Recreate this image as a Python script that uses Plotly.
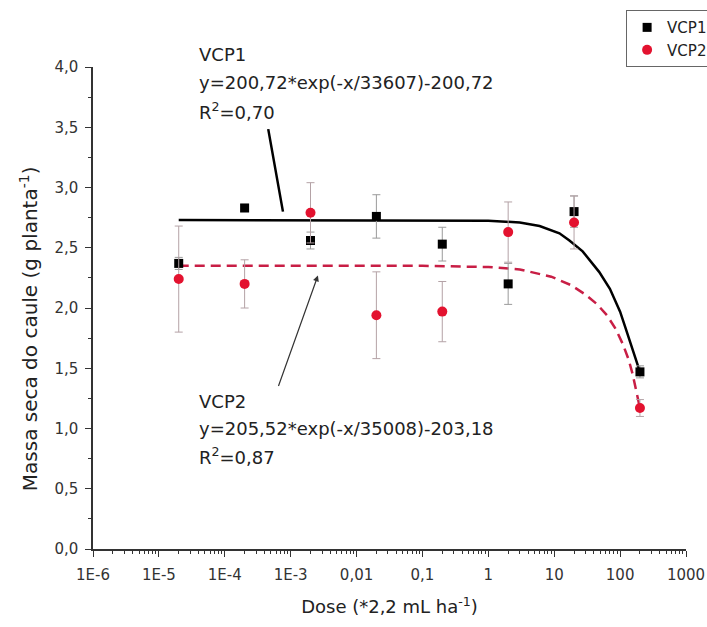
import plotly.graph_objects as go

# ---------------- data ----------------
doses = [2e-5, 2e-4, 2e-3, 0.02, 0.2, 2, 20, 200]
vcp1 = [2.37, 2.83, 2.56, 2.76, 2.53, 2.20, 2.80, 1.47]
vcp1_err = [0.05, 0.03, 0.07, 0.18, 0.14, 0.17, 0.13, 0.05]
vcp2 = [2.24, 2.20, 2.79, 1.94, 1.97, 2.63, 2.71, 1.17]
vcp2_err = [0.44, 0.20, 0.25, 0.36, 0.25, 0.25, 0.22, 0.07]

# fitted curves
fit1_x = [2e-5, 1, 3, 6, 12, 17, 27, 48, 70, 87, 100, 120, 140, 155, 175, 200]
fit1_y = [2.73, 2.725, 2.71, 2.68, 2.62, 2.56, 2.47, 2.30, 2.16, 2.05, 1.97, 1.84, 1.73, 1.65, 1.57, 1.47]
fit2_x = [2e-5, 0.1, 1, 3, 9, 18, 30, 45, 63, 85, 110, 135, 155, 178, 200]
fit2_y = [2.35, 2.35, 2.34, 2.32, 2.26, 2.19, 2.11, 2.03, 1.94, 1.83, 1.70, 1.57, 1.45, 1.31, 1.17]

x_tickvals = [1e-6, 1e-5, 1e-4, 1e-3, 1e-2, 1e-1, 1, 10, 100, 1000]
x_ticktext = ["1E-6", "1E-5", "1E-4", "1E-3", "0,01", "0,1", "1", "10", "100", "1000"]
y_tickvals = [0, 0.5, 1.0, 1.5, 2.0, 2.5, 3.0, 3.5, 4.0]

FONT = "DejaVu Sans, Liberation Sans, Arial, sans-serif"
RED = "#e3122f"
DASH_RED = "#c81e45"

fig = go.Figure()

fig.add_trace(go.Scatter(x=fit1_x, y=fit1_y, mode="lines", showlegend=False,
                         line=dict(color="black", width=2.5), hoverinfo="skip"))
fig.add_trace(go.Scatter(x=fit2_x, y=fit2_y, mode="lines", showlegend=False,
                         line=dict(color=DASH_RED, width=2.5, dash="10px,6px"), hoverinfo="skip"))

fig.add_trace(go.Scatter(
    x=doses, y=vcp1, mode="markers", name="VCP1",
    marker=dict(symbol="square", size=9, color="black"),
    error_y=dict(type="data", array=vcp1_err, color="#9a9a9a", thickness=1, width=4)))
fig.add_trace(go.Scatter(
    x=doses, y=vcp2, mode="markers", name="VCP2",
    marker=dict(symbol="circle", size=10, color=RED),
    error_y=dict(type="data", array=vcp2_err, color="#b4a2a6", thickness=1, width=4)))

minor_vals = [m * 10 ** e for e in range(-6, 3) for m in range(2, 10)]

fig.update_xaxes(
    type="log", range=[-6, 3],
    tickmode="array", tickvals=x_tickvals, ticktext=x_ticktext,
    ticks="outside", ticklen=6, tickwidth=1.2, tickcolor="#333",
    minor=dict(tickmode="array", tickvals=minor_vals, ticks="outside", ticklen=3,
               tickwidth=1, tickcolor="#333", showgrid=False),
    showline=True, linecolor="#333", linewidth=1.5, showgrid=False, zeroline=False,
    tickfont=dict(family=FONT, size=15, color="#333"), ticklabelstandoff=5,
    title=dict(text="Dose (*2,2 mL ha<sup>-1</sup>)", font=dict(family=FONT, size=18, color="#222"),
               standoff=18),
)
fig.update_yaxes(
    range=[0, 4], tickmode="array", tickvals=y_tickvals, tickformat=".1f",
    ticks="outside", ticklen=6, tickwidth=1.2, tickcolor="#333",
    minor=dict(dtick=0.25, ticks="outside", ticklen=3, tickwidth=1, tickcolor="#333", showgrid=False),
    showline=True, linecolor="#333", linewidth=1.5, showgrid=False, zeroline=False,
    tickfont=dict(family=FONT, size=15, color="#333"), ticklabelstandoff=4,
)

def ann(text, x, y, size=18):
    return dict(text=text, x=x, y=y, xref="paper", yref="paper", xanchor="left", yanchor="middle",
                showarrow=False, font=dict(family=FONT, size=size, color="#222"))

annotations = [
    # y-axis title
    dict(text="Massa seca do caule (g planta<sup>-1</sup>)", x=-0.108, y=0.458,
         xref="paper", yref="paper", xanchor="center", yanchor="middle", textangle=-90,
         showarrow=False, font=dict(family=FONT, size=20, color="#222")),
    ann("VCP1", 0.1754, 1.025),
    ann("y=200,72*exp(-x/33607)-200,72", 0.1754, 0.967),
    ann("R<sup>2</sup>=0,70", 0.1754, 0.909),
    ann("VCP2", 0.1754, 0.305),
    ann("y=205,52*exp(-x/35008)-203,18", 0.1754, 0.249),
    ann("R<sup>2</sup>=0,87", 0.1754, 0.193),
    # arrows
    dict(x=-3.117, y=2.80, xref="x", yref="y", text="", showarrow=True, arrowhead=0,
         arrowwidth=2.5, arrowcolor="black", ax=-15, ay=-84, standoff=0),
    dict(x=-2.586, y=2.27, xref="x", yref="y", text="", showarrow=True, arrowhead=2,
         arrowsize=1, arrowwidth=1.2, arrowcolor="#333", ax=-40, ay=112, standoff=0),
]

fig.update_layout(
    width=707, height=627,
    margin=dict(l=93, r=21, t=67, b=78, autoexpand=False),
    paper_bgcolor="white", plot_bgcolor="white",
    separators=",.",
    annotations=annotations,
    legend=dict(x=0.899, y=1.118, xanchor="left", yanchor="top",
                bordercolor="#666", borderwidth=1, bgcolor="white",
                font=dict(family=FONT, size=15, color="#222"),
                itemwidth=30, tracegroupgap=0),
    showlegend=True,
)

fig.write_html("out.html", config={"displayModeBar": False},
               post_script="document.body.style.margin='0';document.body.style.overflow='hidden';")
